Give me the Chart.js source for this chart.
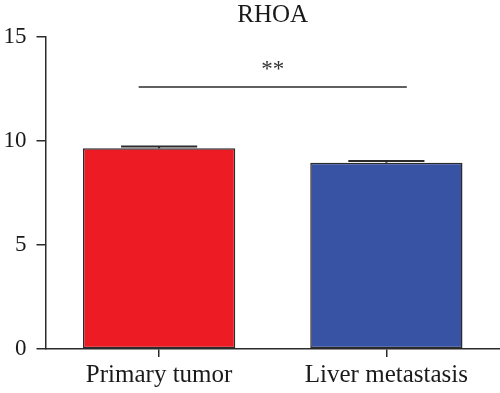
<!DOCTYPE html>
<html>
<head>
<meta charset="utf-8">
<script src="https://cdn.jsdelivr.net/npm/chart.js@4"></script>
<style>
  html, body { margin: 0; padding: 0; background: #fff; }
  #wrap { width: 500px; height: 393px; }
</style>
</head>
<body>
<div id="wrap"><canvas id="grafico" width="500" height="393"></canvas></div>
<script>
const categorias = ['Primary tumor', 'Liver metastasis'];
const medias = [9.65, 8.96];
const erros = [0.08, 0.08];
const ticksY = [0, 5, 10, 15];
const cores = ['#ED1C24', '#3953A4'];
const significancia = { texto: '**', altura: 12.6, de: -0.09, ate: 1.09 };

const fonte = '"Liberation Serif", "DejaVu Serif", serif';
const corLinha = '#2b2b2b';

// barras de erro + linha de significancia
const extras = {
    id: 'extras',
    afterDatasetsDraw(chart) {
        const ctx = chart.ctx;
        const x = chart.scales.x, y = chart.scales.y;
        ctx.save();
        ctx.strokeStyle = corLinha;
        ctx.lineWidth = 2;
        chart.getDatasetMeta(0).data.forEach((bar, i) => {
            const topo = y.getPixelForValue(medias[i] + erros[i]);
            const meio = bar.width * 0.25;
            ctx.beginPath();
            ctx.moveTo(bar.x, bar.y);
            ctx.lineTo(bar.x, topo);
            ctx.moveTo(bar.x - meio, topo);
            ctx.lineTo(bar.x + meio, topo);
            ctx.stroke();
        });

        const p0 = x.getPixelForValue(0), p1 = x.getPixelForValue(1);
        const xa = p0 + (p1 - p0) * significancia.de;
        const xb = p0 + (p1 - p0) * significancia.ate;
        const ys = y.getPixelForValue(significancia.altura);
        ctx.lineWidth = 1.5;
        ctx.beginPath();
        ctx.moveTo(xa, ys);
        ctx.lineTo(xb, ys);
        ctx.stroke();

        ctx.fillStyle = '#333';
        ctx.font = '23px ' + fonte;
        ctx.textAlign = 'center';
        ctx.textBaseline = 'alphabetic';
        ctx.fillText(significancia.texto, (xa + xb) / 2, ys - 11);
        ctx.restore();
    }
};

new Chart(document.getElementById('grafico'), {
    type: 'bar',
    data: {
        labels: categorias,
        datasets: [{
            data: medias,
            backgroundColor: cores,
            borderColor: corLinha,
            borderWidth: 1.5,
            borderSkipped: false,
            barPercentage: 0.67,
            categoryPercentage: 1
        }]
    },
    options: {
        responsive: false,
        animation: false,
        layout: { padding: { left: 0, right: 0, top: 0, bottom: 0 } },
        scales: {
            x: {
                grid: { display: true, offset: false, drawOnChartArea: false, drawTicks: true, tickLength: 8, color: corLinha, lineWidth: 1.5 },
                border: { display: true, color: corLinha, width: 1.5 },
                ticks: { color: '#1a1a1a', font: { family: fonte, size: 25 }, padding: 3 },
                afterFit: s => { s.height = 44; }
            },
            y: {
                min: 0,
                max: 15,
                afterBuildTicks: s => { s.ticks = ticksY.map(v => ({ value: v })); },
                grid: { display: true, drawOnChartArea: false, drawTicks: true, tickLength: 9, color: corLinha, lineWidth: 1.5 },
                border: { display: true, color: corLinha, width: 1.5 },
                ticks: { color: '#1a1a1a', font: { family: fonte, size: 23 }, padding: 10 },
                afterFit: s => { s.width = 45.5; }
            }
        },
        plugins: {
            legend: { display: false },
            tooltip: { enabled: false },
            title: {
                display: true,
                text: 'RHOA',
                fullSize: false,
                color: '#1a1a1a',
                font: { family: fonte, size: 25, weight: 'normal' },
                padding: { top: 0, bottom: 7 }
            }
        }
    },
    plugins: [extras]
});
</script>
</body>
</html>
